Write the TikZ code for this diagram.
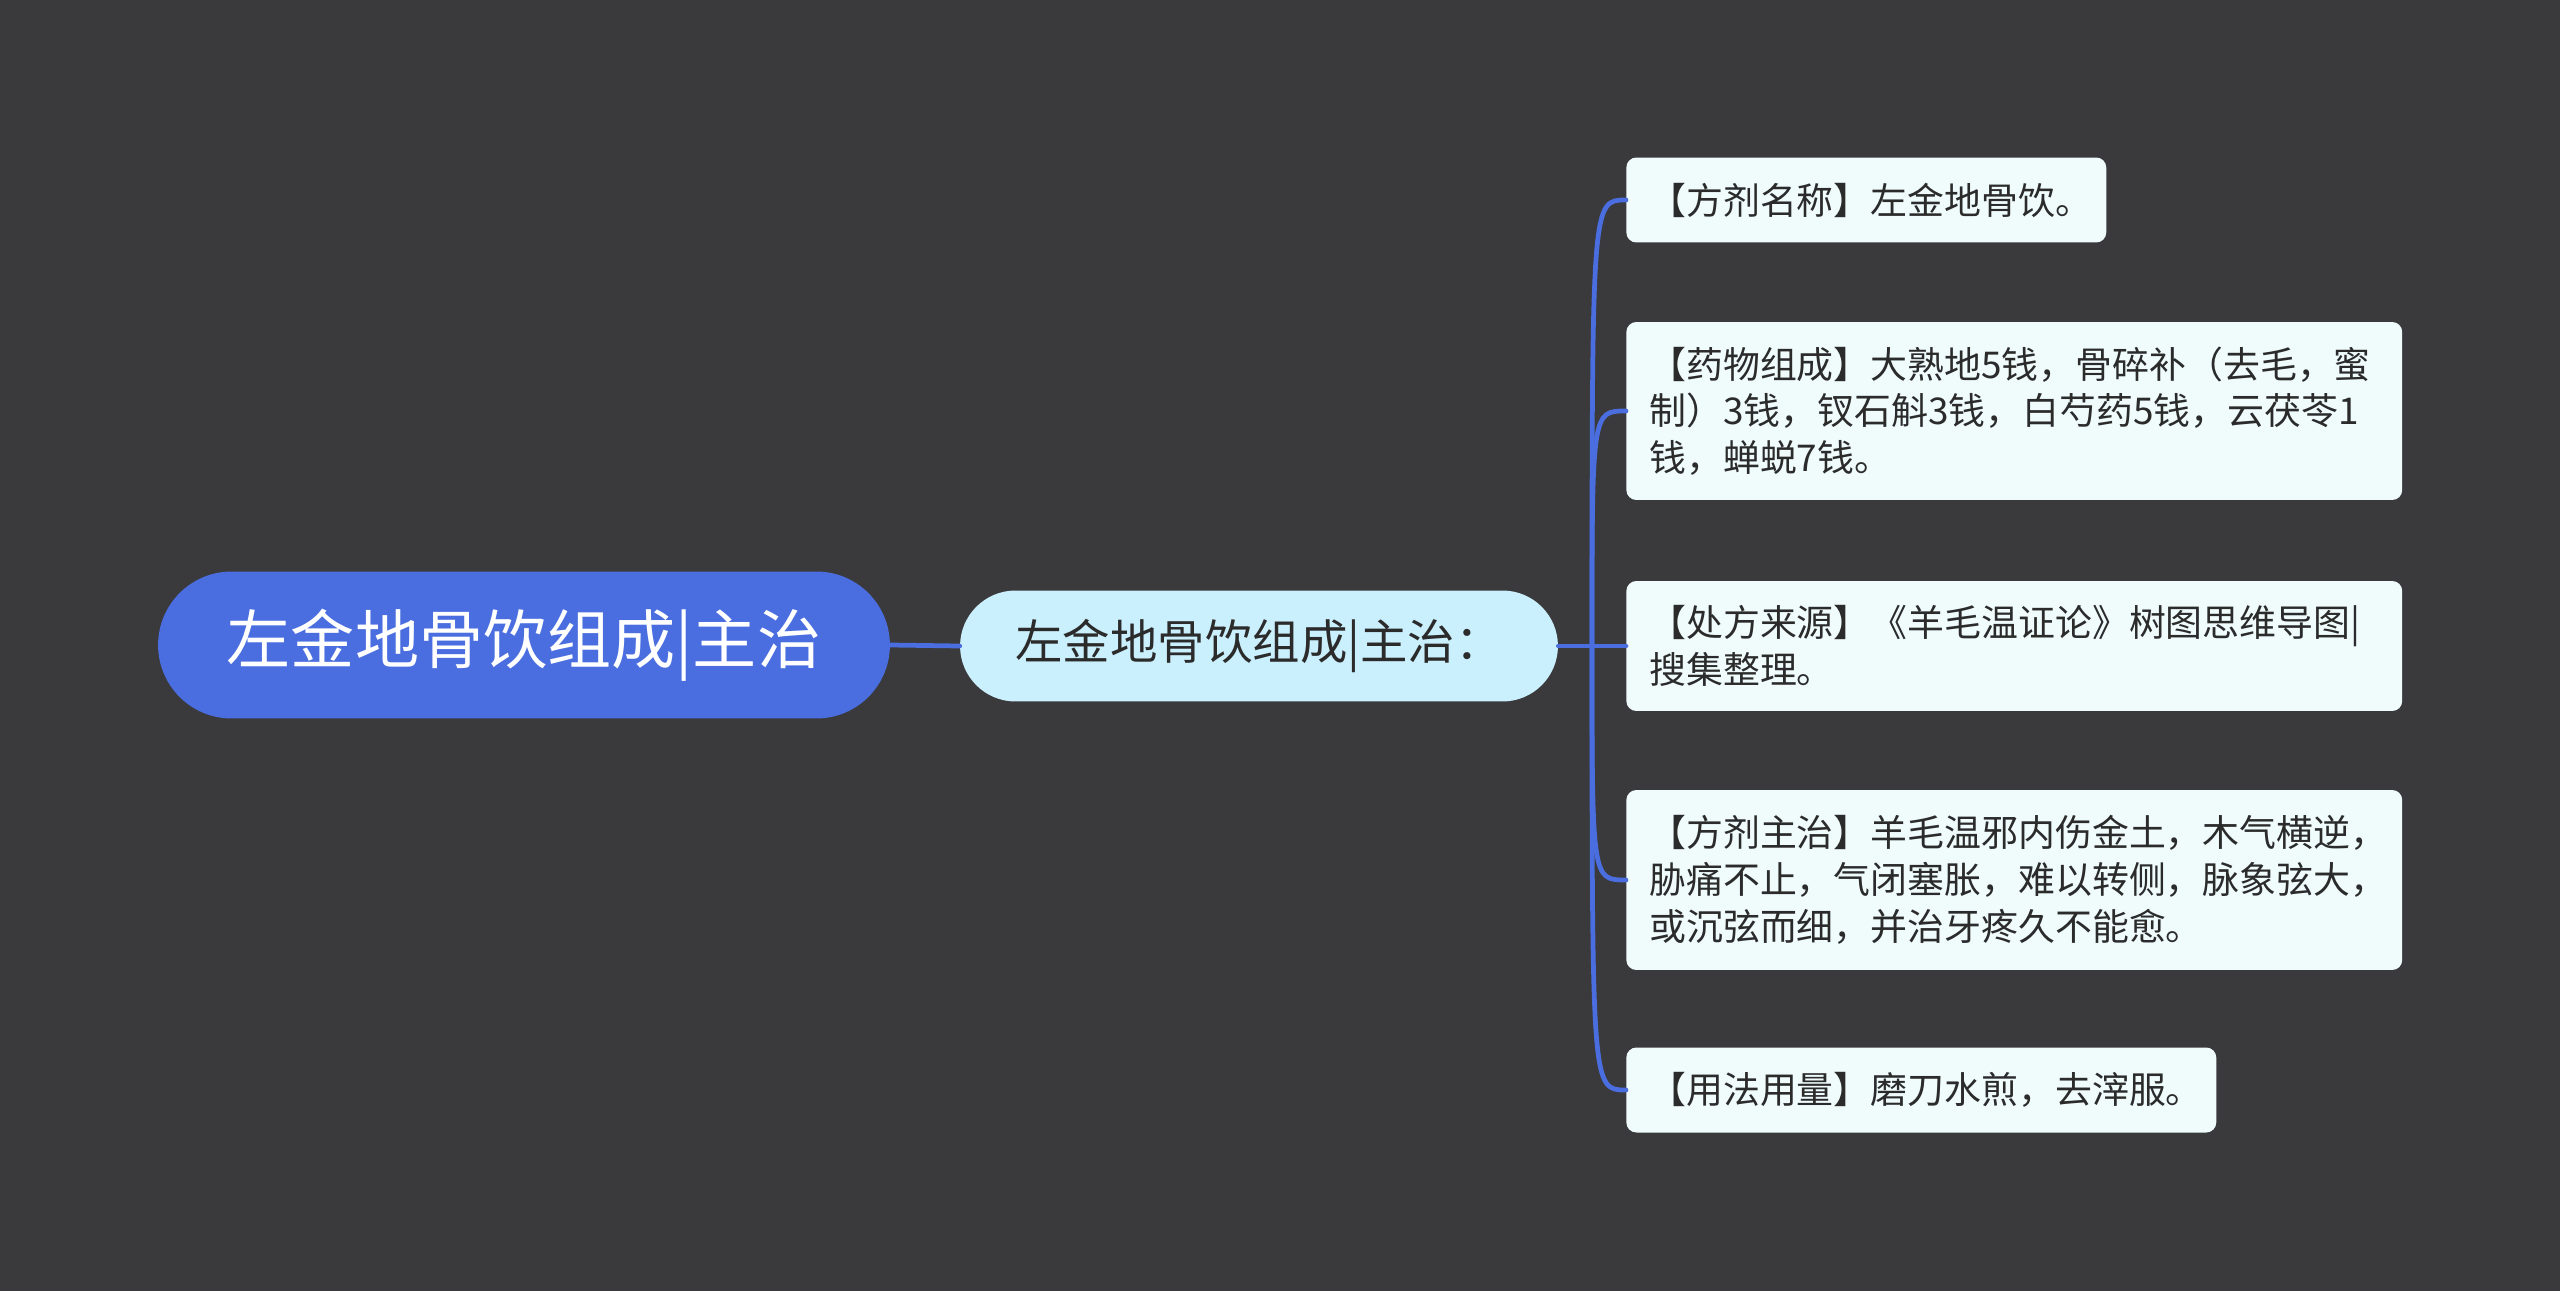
\documentclass[tikz,border=0pt]{standalone}
\usepackage{fontspec}
\newfontfamily\cjk{Noto Sans CJK SC}
\definecolor{bgdark}{HTML}{3A393B}
\definecolor{rootblue}{HTML}{4A6EE0}
\definecolor{topiccyan}{HTML}{CBF0FD}
\definecolor{leafwhite}{HTML}{F0FCFC}
\definecolor{leaftext}{HTML}{2B2B2B}
\begin{document}
\begin{tikzpicture}[x=0.02cm, y=-0.02cm, line join=round, line cap=round,
	link/.style={draw=rootblue, line width=2.7pt},
	leaf/.style={fill=leafwhite, rounded corners=0.2cm, anchor=west, align=left, inner xsep=0.46cm, inner ysep=0pt, text=leaftext, font=\cjk\fontsize{21}{26.6}\selectfont}]
	\fill[bgdark] (0,0) rectangle (2560,1291);
	\useasboundingbox (0,0) rectangle (2560,1291);
	% main nodes
	\node[fill=rootblue, rounded corners=1.47cm, minimum width=14.64cm, minimum height=2.94cm, inner sep=0pt, text=white, font=\cjk\fontsize{36.5}{44}\selectfont] (root) at (524,645) {左金地骨饮组成|主治};
	\node[fill=topiccyan, rounded corners=1.11cm, minimum width=11.96cm, minimum height=2.22cm, inner sep=0pt, text=leaftext, font=\cjk\fontsize{27}{32}\selectfont] (topic) at (1259,646) {左金地骨饮组成|主治：};
	\coordinate (jn) at (1592,646);
	% leaves
	\node[leaf, text width=8.68cm, minimum height=1.7cm] (name) at (1626,200) {【方剂名称】左金地骨饮。};
	\node[leaf, text width=14.6cm, minimum height=3.56cm] (herbs) at (1626,411) {【药物组成】大熟地5钱，骨碎补（去毛，蜜\\制）3钱，钗石斛3钱，白芍药5钱，云茯苓1\\钱，蝉蜕7钱。};
	\node[leaf, text width=14.6cm, minimum height=2.6cm] (source) at (1626,646) {【处方来源】《羊毛温证论》树图思维导图|\\搜集整理。};
	\node[leaf, text width=14.6cm, minimum height=3.6cm] (indic) at (1626,880) {【方剂主治】羊毛温邪内伤金土，木气横逆，\\胁痛不止，气闭塞胀，难以转侧，脉象弦大，\\或沉弦而细，并治牙疼久不能愈。};
	\node[leaf, text width=10.88cm, minimum height=1.7cm] (usage) at (1626,1090) {【用法用量】磨刀水煎，去滓服。};
	% connectors
	\draw[link] (root.east) -- (topic.west);
	\draw[link] (topic.east) -- (jn);
	\draw[link] (jn) .. controls (jn |- name.west) .. (name.west);
	\draw[link] (jn) .. controls (jn |- herbs.west) .. (herbs.west);
	\draw[link] (jn) -- (source.west);
	\draw[link] (jn) .. controls (jn |- indic.west) .. (indic.west);
	\draw[link] (jn) .. controls (jn |- usage.west) .. (usage.west);
\end{tikzpicture}
\end{document}
